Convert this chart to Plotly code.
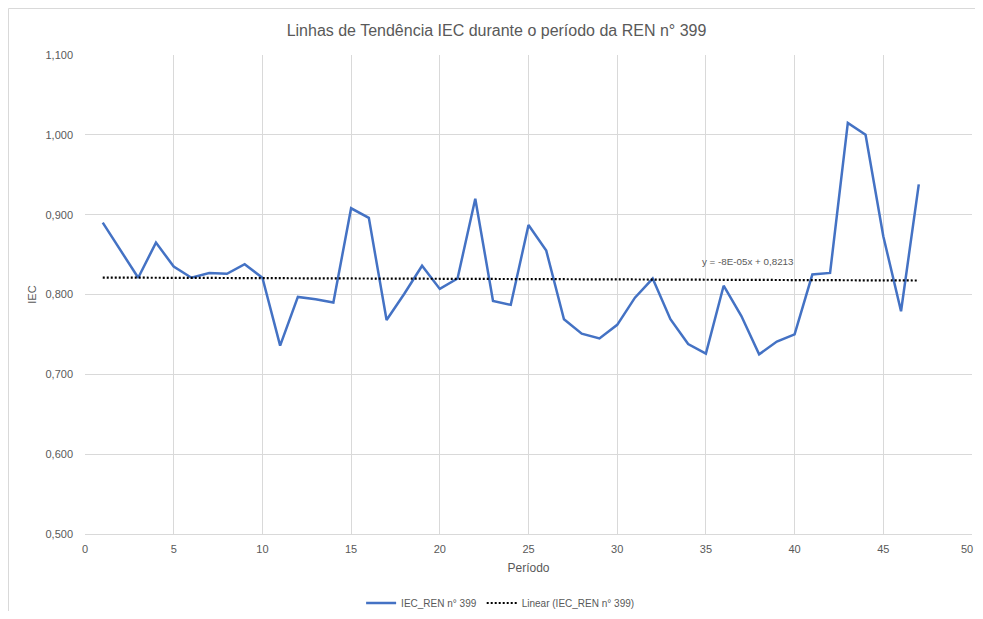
import plotly.graph_objects as go

# --- DATA ---
periodo = list(range(1, 48))
iec_ren_399 = [
    0.890, 0.856, 0.821, 0.865, 0.835, 0.821, 0.827, 0.826, 0.838, 0.821,
    0.736, 0.797, 0.794, 0.790, 0.908, 0.896, 0.768, 0.801, 0.836, 0.807,
    0.820, 0.920, 0.792, 0.787, 0.887, 0.855, 0.769, 0.751, 0.745, 0.762,
    0.796, 0.820, 0.769, 0.738, 0.726, 0.811, 0.773, 0.725, 0.741, 0.750,
    0.825, 0.827, 1.015, 1.000, 0.873, 0.779, 0.938,
]
trend_slope = -8e-05
trend_intercept = 0.8213
x_ticks = list(range(0, 51, 5))
y_ticks = [0.5, 0.6, 0.7, 0.8, 0.9, 1.0, 1.1]

trend_y = [trend_intercept + trend_slope * x for x in periodo]

FONT = "Liberation Sans"
GREY = "#595959"
GRID = "#d9d9d9"

# page body keeps its 8px margin, so the figure is sized to fit inside the window
W, H = 967, 603
L, R, T, B = 77, 3, 47, 77
pw, ph = W - L - R, H - T - B

fig = go.Figure()
fig.add_trace(go.Scatter(x=periodo, y=iec_ren_399, mode='lines', name='IEC_REN n° 399',
                         line=dict(color='#4472C4', width=2.5)))
fig.add_trace(go.Scatter(x=periodo, y=trend_y, mode='lines', name='Linear (IEC_REN n° 399)',
                         line=dict(color='black', width=2.2, dash='2px,2px')))

fig.update_layout(
    width=W, height=H,
    paper_bgcolor='white', plot_bgcolor='white',
    font=dict(family=FONT, color=GREY, size=11),
    separators=',.',
    title=dict(text='Linhas de Tendência IEC durante o período da REN n° 399',
               x=0.5 + 5 / W, xanchor='center', y=1 - 22 / H, yanchor='middle',
               font=dict(size=16, color=GREY, family=FONT)),
    margin=dict(l=L, r=R, t=T, b=B, autoexpand=False),
    showlegend=True,
    legend=dict(orientation='h', x=0.468, xanchor='center', y=-69 / ph, yanchor='middle',
                font=dict(size=10, color=GREY), itemwidth=30, entrywidthmode='pixels'),
)
fig.update_xaxes(range=[0, 50], tickvals=x_ticks, showgrid=True, gridcolor=GRID, gridwidth=1,
                 zeroline=False, showline=True, linecolor=GRID, ticks='',
                 ticklabelstandoff=5,
                 tickfont=dict(size=11, color=GREY),
                 title=dict(text='Período', font=dict(size=12, color=GREY), standoff=9))
fig.update_yaxes(range=[0.5, 1.1], tickvals=y_ticks, tickformat='.3f', showgrid=True,
                 gridcolor=GRID, gridwidth=1, zeroline=False, showline=False, ticks='',
                 ticklabelstandoff=11,
                 tickfont=dict(size=11, color=GREY),
                 title=dict(text='IEC', font=dict(size=11, color=GREY), standoff=6))

fig.add_annotation(x=37.4, y=0.841, xref='x', yref='y', text='y = -8E-05x + 0,8213',
                   showarrow=False, font=dict(size=9.8, color=GREY))

# last x tick label sits at the very edge of the figure, so pin it inside
fig.add_annotation(x=x_ticks[-1], y=0, xref='x', yref='paper', text=str(x_ticks[-1]),
                   xanchor='right', yanchor='top', xshift=3, yshift=-7,
                   showarrow=False, font=dict(size=11, color=GREY))

# outer chart border (top and left edges are visible in the reference)
fig.add_shape(type='rect', xref='paper', yref='paper',
              x0=-(L - 0.5) / pw, x1=1 + (R + 20) / pw, y0=-(B + 20) / ph, y1=1 + (T - 0.5) / ph,
              line=dict(color=GRID, width=1), fillcolor='rgba(0,0,0,0)', layer='below')

fig.write_html("out.html")
